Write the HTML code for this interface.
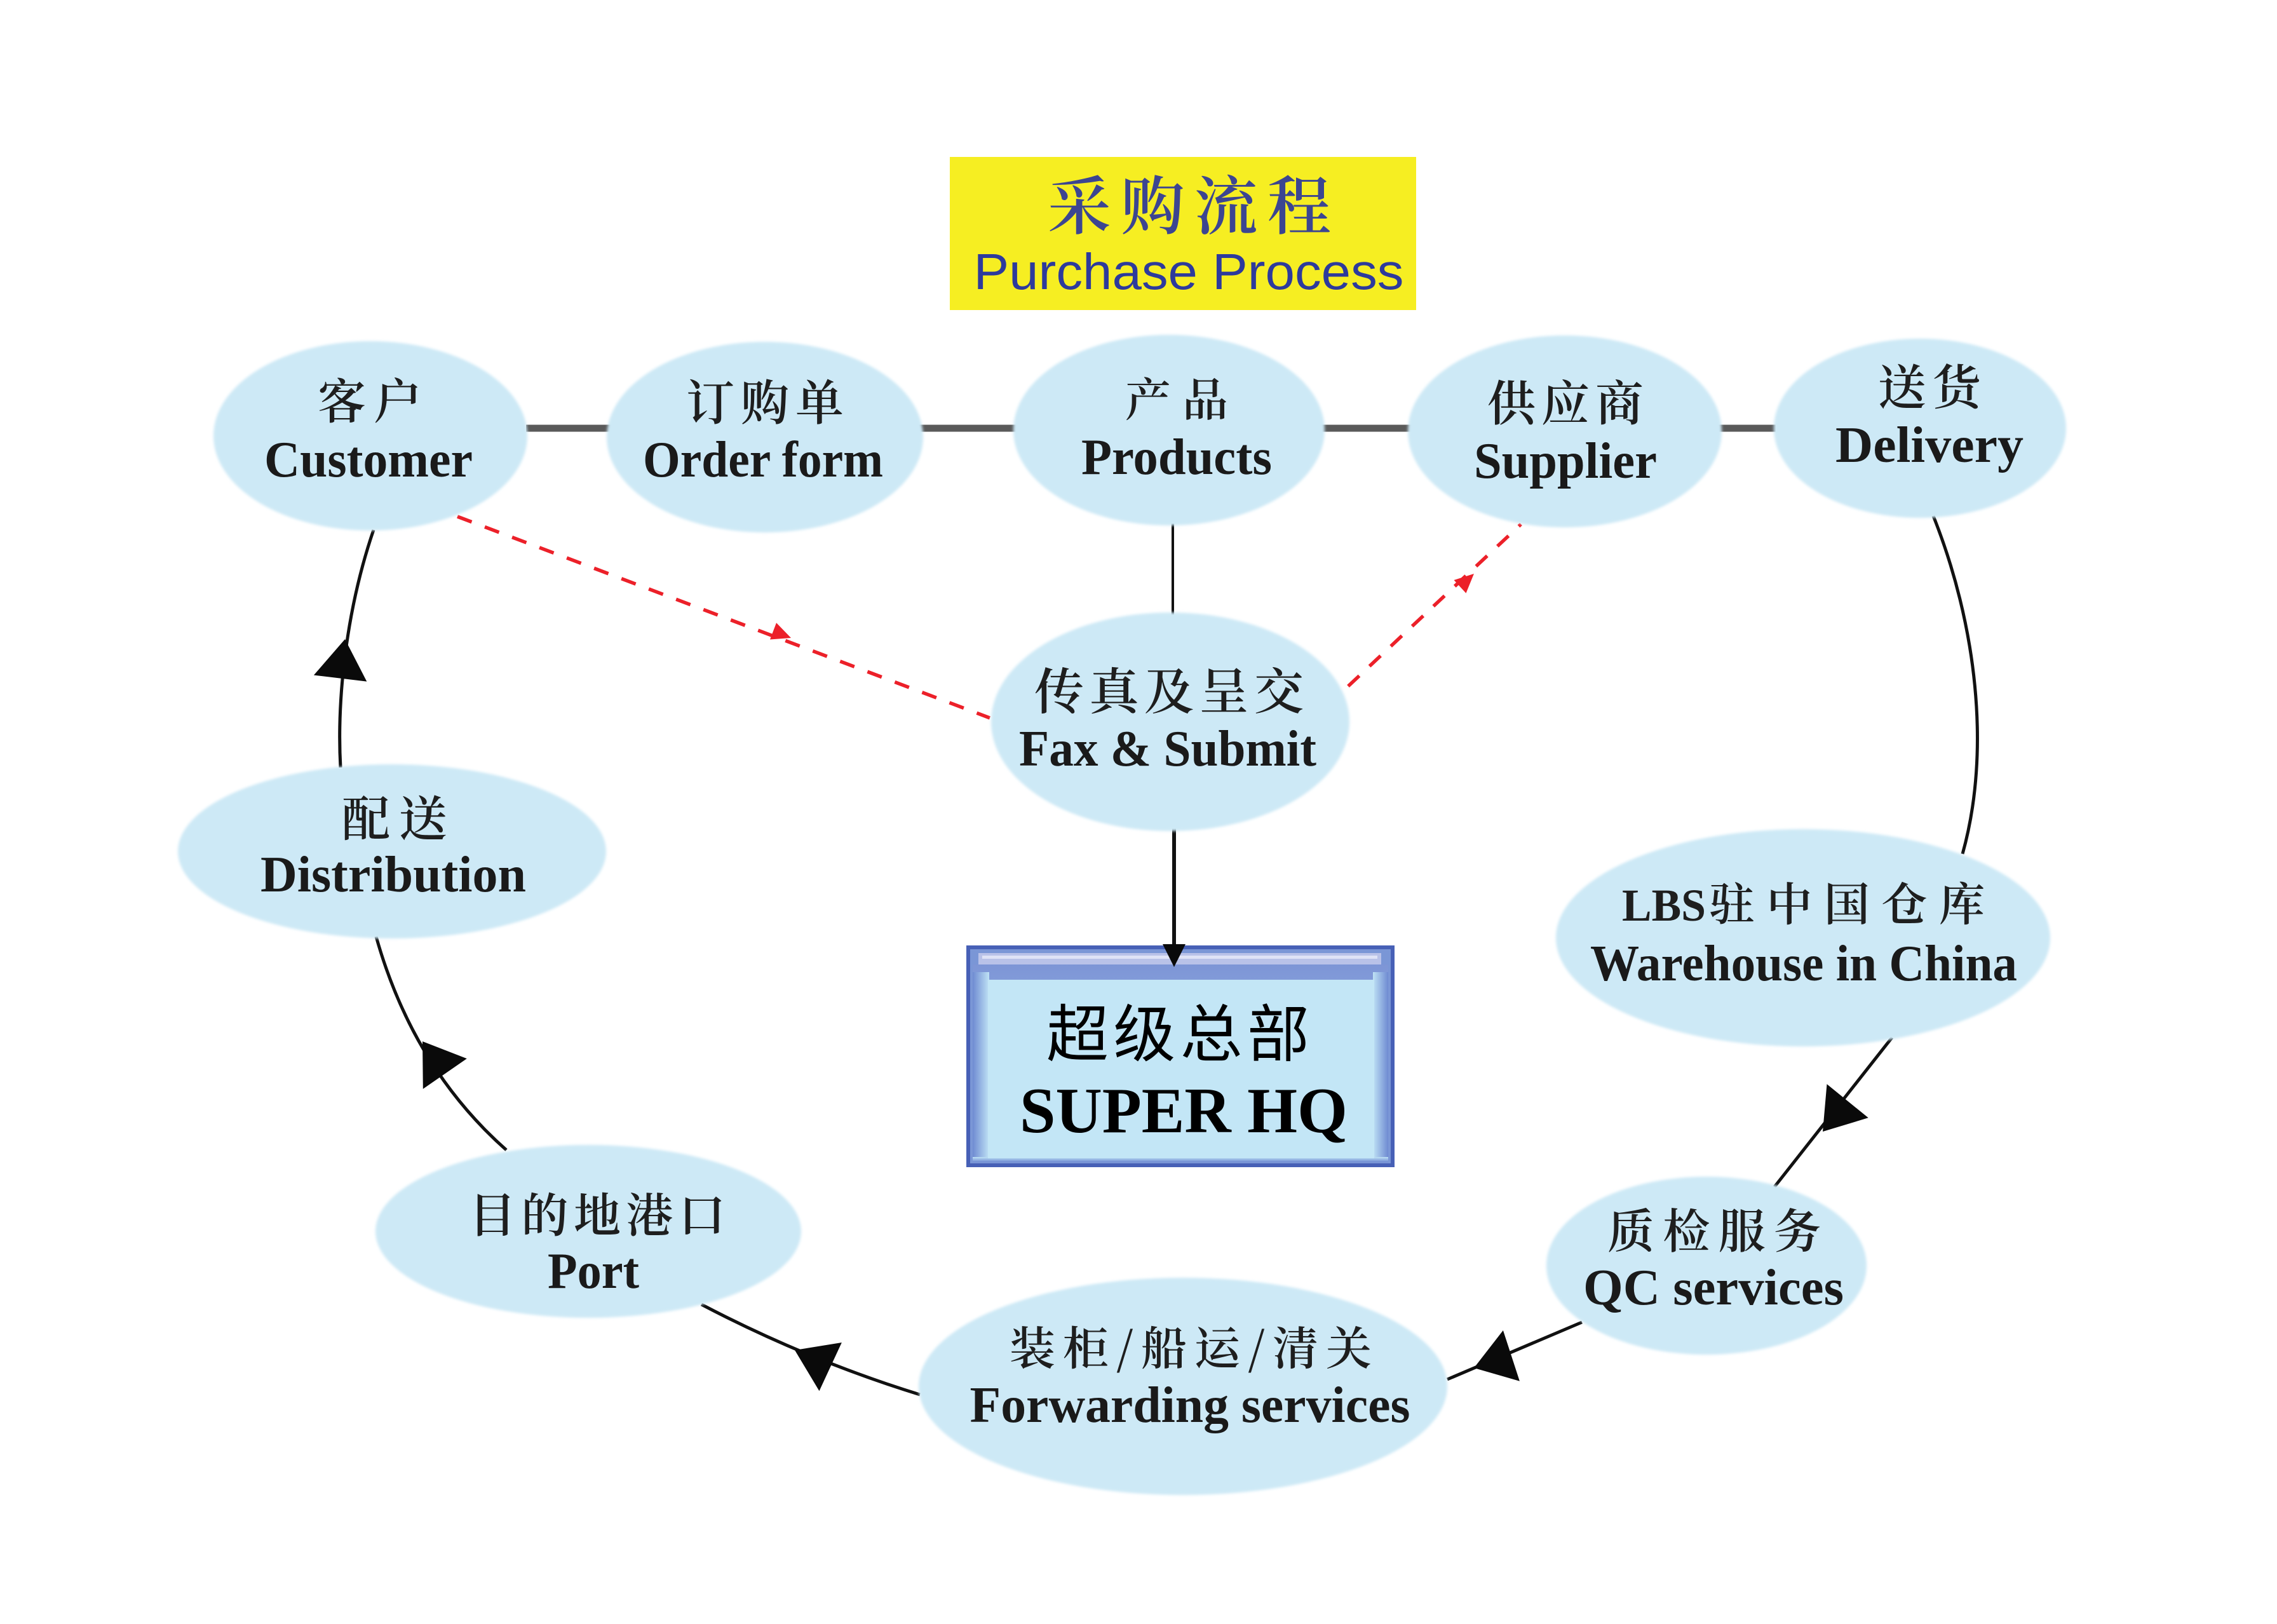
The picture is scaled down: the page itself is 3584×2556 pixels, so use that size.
<!DOCTYPE html>
<html>
<head>
<meta charset="utf-8">
<style>
html,body{margin:0;padding:0;background:#fff;}
svg{display:block;}
</style>
</head>
<body>
<svg width="3584" height="2556" viewBox="0 0 3584 2556" xmlns="http://www.w3.org/2000/svg">
<defs>
  <filter id="soft" x="-5%" y="-5%" width="110%" height="110%">
    <feGaussianBlur stdDeviation="2.2"/>
  </filter>
  <linearGradient id="hqv" x1="0" y1="0" x2="0" y2="1">
    <stop offset="0" stop-color="#7d95d6"/>
    <stop offset="1" stop-color="#b3d6f1"/>
  </linearGradient>
  <linearGradient id="hqL" x1="0" y1="0" x2="1" y2="0">
    <stop offset="0" stop-color="#6f8bd2"/>
    <stop offset="1" stop-color="#bfe2f5"/>
  </linearGradient>
  <linearGradient id="hqR" x1="1" y1="0" x2="0" y2="0">
    <stop offset="0" stop-color="#6f8bd2"/>
    <stop offset="1" stop-color="#bfe2f5"/>
  </linearGradient>
  <linearGradient id="hqB" x1="0" y1="1" x2="0" y2="0">
    <stop offset="0" stop-color="#6f8bd2"/>
    <stop offset="1" stop-color="#bfe2f5"/>
  </linearGradient>
</defs>

<rect x="0" y="0" width="3584" height="2556" fill="#ffffff"/>

<!-- Title box -->
<rect x="1495" y="247" width="734" height="241" fill="#f6ee22"/>
<text x="1872" y="360" text-anchor="middle" font-family="'Noto Serif CJK SC',serif" font-weight="600" font-size="100" fill="#3c4591" textLength="446" lengthAdjust="spacing">采购流程</text>
<text x="1871" y="455" text-anchor="middle" font-family="'Liberation Sans',sans-serif" font-size="80" fill="#2d3a9c" textLength="677" lengthAdjust="spacingAndGlyphs">Purchase Process</text>

<!-- Connectors (under ellipses) -->
<line x1="828" y1="674" x2="2795" y2="674" stroke="#5a5a5a" stroke-width="11"/>
<line x1="1846" y1="824" x2="1846" y2="968" stroke="#111" stroke-width="4"/>
<line x1="1848" y1="1304" x2="1848" y2="1500" stroke="#111" stroke-width="6"/>

<g fill="none" stroke="#111" stroke-width="5">
  <path d="M536,1208 C530,1100 545,960 588,834"/>
  <path d="M797,1810 Q650,1680 592,1474"/>
  <path d="M1448,2195 Q1270,2140 1104,2053"/>
  <path d="M2490,2081 L2278,2171"/>
  <path d="M2978,1633 L2793,1868"/>
  <path d="M3043,812 C3110,980 3135,1180 3089,1344"/>
</g>

<!-- Red dashed connectors -->
<g fill="none" stroke="#ec2029" stroke-width="5.5" stroke-dasharray="24 22">
  <line x1="720" y1="813" x2="1558" y2="1130"/>
  <line x1="2122" y1="1080" x2="2394" y2="825"/>
</g>

<!-- Ellipses -->
<g fill="#cde9f6" filter="url(#soft)">
  <ellipse cx="583" cy="686" rx="247" ry="149"/>
  <ellipse cx="1204" cy="688" rx="249" ry="150"/>
  <ellipse cx="1840" cy="677" rx="245" ry="150"/>
  <ellipse cx="2463" cy="679" rx="247" ry="151"/>
  <ellipse cx="3022" cy="674" rx="230" ry="141"/>
  <ellipse cx="1842" cy="1136" rx="282" ry="172"/>
  <ellipse cx="617" cy="1340" rx="337" ry="137"/>
  <ellipse cx="2838" cy="1476" rx="389" ry="171"/>
  <ellipse cx="2686" cy="1992" rx="252" ry="140"/>
  <ellipse cx="1862" cy="2182" rx="416" ry="171"/>
  <ellipse cx="926" cy="1938" rx="335" ry="136"/>
</g>

<!-- Arrowheads -->
<g fill="#0a0a0a">
  <polygon points="543,1006 577.3,1072.6 493.9,1062.6"/>
  <polygon points="665,1639 734.8,1666.1 665.8,1713.9"/>
  <polygon points="1251,2125 1324.9,2113 1289.5,2189.2"/>
  <polygon points="2869,1781 2940.7,1759.3 2875.5,1706.3"/>
  <polygon points="2320,2153 2391.9,2173.7 2365.9,2093.9"/>
</g>
<g fill="#ec2029">
  <polygon points="1245,1004 1212,1006.5 1222,980.3"/>
  <polygon points="2320,903 2307.5,933.6 2288.5,913"/>
</g>

<!-- HQ box -->
<rect x="1521" y="1488" width="674" height="349" fill="#4760b6"/>
<rect x="1527" y="1494" width="662" height="337" fill="#7a96d6"/>
<rect x="1531" y="1518" width="654" height="309" fill="url(#hqv)"/>
<rect x="1531" y="1530" width="26" height="297" fill="url(#hqL)"/>
<rect x="2161" y="1530" width="24" height="297" fill="url(#hqR)"/>
<rect x="1531" y="1821" width="654" height="8" fill="url(#hqB)"/>
<rect x="1555" y="1542" width="608" height="281" fill="#c3e6f6"/>
<rect x="1540" y="1500" width="634" height="18" fill="#b9c2e8"/>
<rect x="1546" y="1504" width="622" height="5" fill="#dfe3f6"/>
<polygon points="1830,1486 1866,1486 1848,1522" fill="#0a0a0a"/>
<text x="1854" y="1662" text-anchor="middle" font-family="'Noto Sans CJK SC',sans-serif" font-size="98" fill="#000" textLength="414" lengthAdjust="spacing">超级总部</text>
<text x="1863" y="1782" text-anchor="middle" font-family="'Liberation Serif',serif" font-weight="bold" font-size="102" fill="#000" textLength="516" lengthAdjust="spacingAndGlyphs">SUPER HQ</text>

<!-- Node labels: CJK -->
<g font-family="'Noto Serif CJK SC',serif" font-weight="600" fill="#1e1e1e" text-anchor="middle">
<text x="582" y="659" font-size="76" textLength="164" lengthAdjust="spacing">客户</text>
<text x="1204" y="661" font-size="76" textLength="248" lengthAdjust="spacing">订购单</text>
<text x="1852" y="655" font-size="72" textLength="162" lengthAdjust="spacing">产品</text>
<text x="2464" y="662" font-size="76" textLength="246" lengthAdjust="spacing">供应商</text>
<text x="3037" y="637" font-size="76" textLength="162" lengthAdjust="spacing">送货</text>
<text x="1840" y="1116" font-size="78" textLength="424" lengthAdjust="spacing">传真及呈交</text>
<text x="621" y="1316" font-size="76" textLength="166" lengthAdjust="spacing">配送</text>
<text x="940" y="1939" font-size="74" textLength="404" lengthAdjust="spacing">目的地港口</text>
<text x="2698" y="1964" font-size="74" textLength="336" lengthAdjust="spacing">质检服务</text>
<text x="1874" y="2148" font-size="72" textLength="570" lengthAdjust="spacing">装柜/船运/清关</text>
</g>
<text x="2553" y="1449" font-family="'Liberation Serif',serif" font-weight="bold" font-size="72" fill="#1e1e1e" textLength="132" lengthAdjust="spacingAndGlyphs">LBS</text>
<text x="2690" y="1449" font-family="'Noto Serif CJK SC',serif" font-weight="600" font-size="72" fill="#1e1e1e" textLength="434" lengthAdjust="spacing">驻中国仓库</text>

<!-- Node labels: English -->
<g font-family="'Liberation Serif','DejaVu Serif',serif" font-weight="bold" font-size="80" fill="#1a1a1a" text-anchor="middle">
<text x="580" y="750" textLength="328" lengthAdjust="spacingAndGlyphs">Customer</text>
<text x="1201" y="750" textLength="378" lengthAdjust="spacingAndGlyphs">Order form</text>
<text x="1852" y="746" textLength="300" lengthAdjust="spacingAndGlyphs">Products</text>
<text x="2464" y="752" textLength="288" lengthAdjust="spacingAndGlyphs">Supplier</text>
<text x="3037" y="727" textLength="296" lengthAdjust="spacingAndGlyphs">Delivery</text>
<text x="1838" y="1205" textLength="468" lengthAdjust="spacingAndGlyphs">Fax &amp; Submit</text>
<text x="619" y="1403" textLength="418" lengthAdjust="spacingAndGlyphs">Distribution</text>
<text x="934" y="2027" textLength="144" lengthAdjust="spacingAndGlyphs">Port</text>
<text x="2839" y="1543" textLength="672" lengthAdjust="spacingAndGlyphs">Warehouse in China</text>
<text x="2697" y="2053" textLength="410" lengthAdjust="spacingAndGlyphs">QC services</text>
<text x="1873" y="2238" textLength="693" lengthAdjust="spacingAndGlyphs">Forwarding services</text>
</g>
</svg>
</body>
</html>
